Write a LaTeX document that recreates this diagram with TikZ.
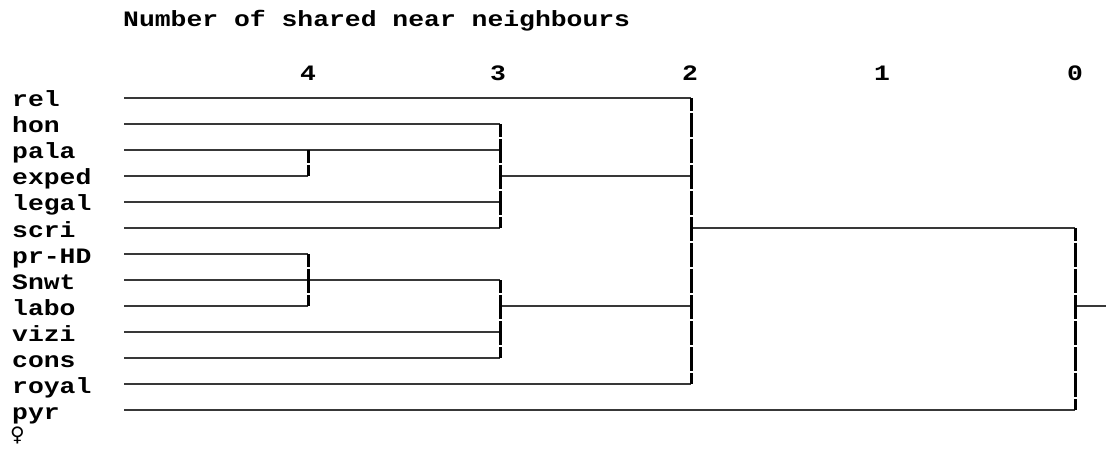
\documentclass[tikz,border=0pt]{standalone}
\usepackage{fontspec}
\newfontfamily\dendfont[FakeStretch=1.2]{Liberation Mono}
\newfontfamily\signfont{DejaVu Sans}
\usetikzlibrary{calc}

\begin{document}
\begin{tikzpicture}[
    x=1pt, y=-1pt,
    font=\dendfont\bfseries\fontsize{22}{22}\selectfont,
    leaf/.style={anchor=base west, inner sep=0pt},
    tick/.style={anchor=base, inner sep=0pt},
    hlink/.style={line width=2pt, draw=black!78},
    vlink/.style={line width=3pt, draw=black, dash pattern=on 24pt off 2pt, dash phase=11pt},
]
\useasboundingbox (0,0) rectangle (1106,449);
\node[leaf] (title) at (123,27) {Number of shared near neighbours};
\node[tick] (n4) at (308,81) {4};
\node[tick] (n3) at (498,81) {3};
\node[tick] (n2) at (690,81) {2};
\node[tick] (n1) at (882,81) {1};
\node[tick] (n0) at (1075,81) {0};
\node[leaf] (rel)   at (12,107) {rel};
\node[leaf] (hon)   at (12,133) {hon};
\node[leaf] (pala)  at (12,159) {pala};
\node[leaf] (exped) at (12,185) {exped};
\node[leaf] (legal) at (12,211) {legal};
\node[leaf] (scri)  at (12,237) {scri};
\node[leaf] (prhd)  at (12,263) {pr-HD};
\node[leaf] (snwt)  at (12,289) {Snwt};
\node[leaf] (labo)  at (12,315) {labo};
\node[leaf] (vizi)  at (12,341) {vizi};
\node[leaf] (cons)  at (12,367) {cons};
\node[leaf] (royal) at (12,393) {royal};
\node[leaf] (pyr)   at (12,419) {pyr};
\node[leaf, font=\signfont\bfseries\fontsize{20}{20}\selectfont] (fem) at (10,441) {♀};
\coordinate (rel0)   at (124,98);
\coordinate (hon0)   at (124,124);
\coordinate (pala0)  at (124,150);
\coordinate (exped0) at (124,176);
\coordinate (legal0) at (124,202);
\coordinate (scri0)  at (124,228);
\coordinate (prhd0)  at (124,254);
\coordinate (snwt0)  at (124,280);
\coordinate (labo0)  at (124,306);
\coordinate (vizi0)  at (124,332);
\coordinate (cons0)  at (124,358);
\coordinate (royal0) at (124,384);
\coordinate (pyr0)   at (124,410);
\coordinate (c4a)  at (308,150);
\coordinate (c4b)  at (308,280);
\coordinate (c3a)  at (500,176);
\coordinate (c3b)  at (500,306);
\coordinate (c2)   at (691,228);
\coordinate (c0)   at (1075,306);
\coordinate (root) at (1106,306);
\draw[hlink] (rel0)   -- (rel0 -| c2);
\draw[hlink] (hon0)   -- (hon0 -| c3a);
\draw[hlink] (pala0)  -- (pala0 -| c3a);
\draw[hlink] (exped0) -- (exped0 -| c4a);
\draw[hlink] (legal0) -- (legal0 -| c3a);
\draw[hlink] (scri0)  -- (scri0 -| c3a);
\draw[hlink] (prhd0)  -- (prhd0 -| c4b);
\draw[hlink] (snwt0)  -- (snwt0 -| c3b);
\draw[hlink] (labo0)  -- (labo0 -| c4b);
\draw[hlink] (vizi0)  -- (vizi0 -| c3b);
\draw[hlink] (cons0)  -- (cons0 -| c3b);
\draw[hlink] (royal0) -- (royal0 -| c2);
\draw[hlink] (pyr0)   -- (pyr0 -| c0);
\draw[hlink] (c3a) -- (c3a -| c2);
\draw[hlink] (c3b) -- (c3b -| c2);
\draw[hlink] (c2)  -- (c2 -| c0);
\draw[hlink] (c0)  -- (root);
\draw[vlink] (c4a) -- (exped0 -| c4a);
\draw[vlink] (prhd0 -| c4b) -- (labo0 -| c4b);
\draw[vlink] (hon0 -| c3a) -- (scri0 -| c3a);
\draw[vlink] (snwt0 -| c3b) -- (cons0 -| c3b);
\draw[vlink] (rel0 -| c2) -- (royal0 -| c2);
\draw[vlink] (c2 -| c0) -- (pyr0 -| c0);
\end{tikzpicture}
\end{document}
